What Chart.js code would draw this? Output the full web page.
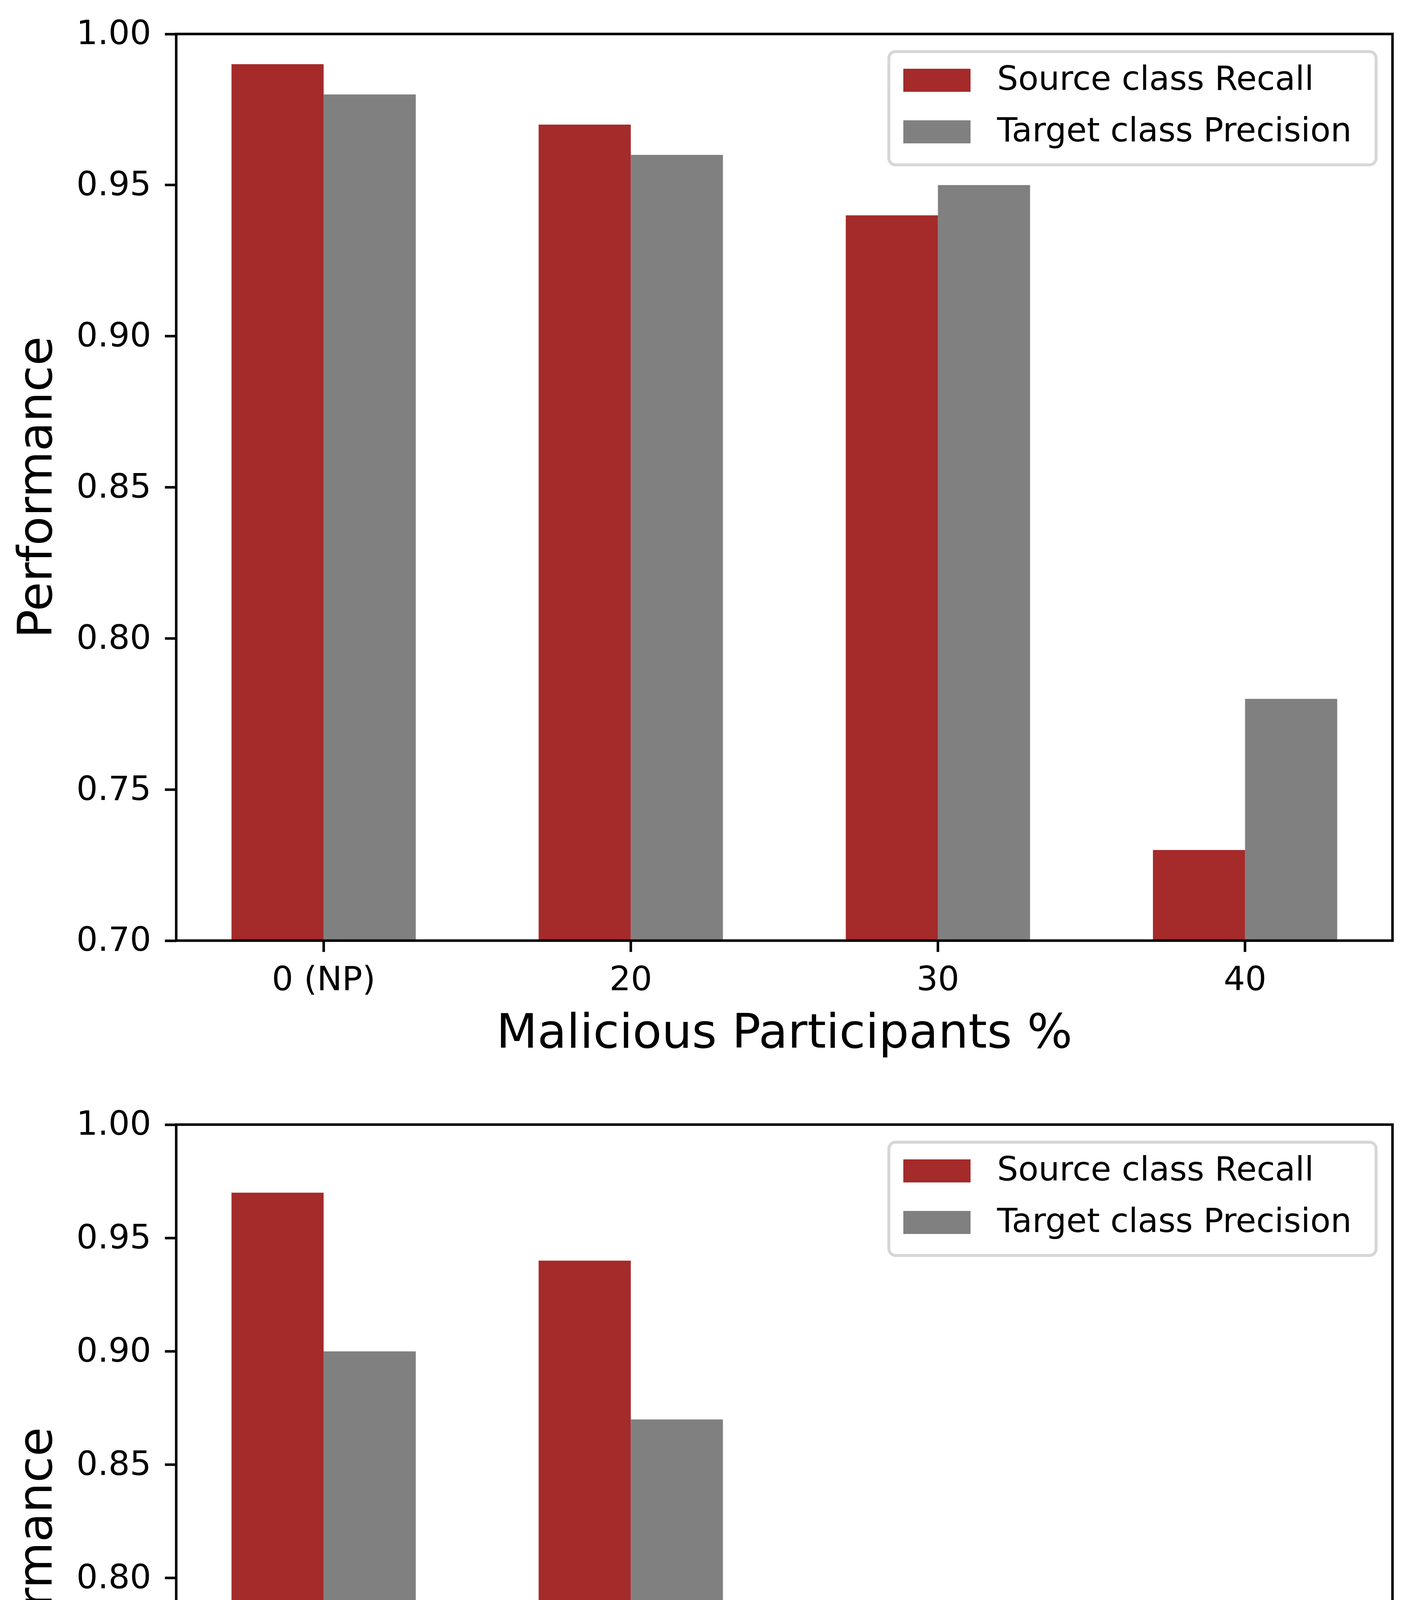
<!DOCTYPE html>
<html>
<head>
<meta charset="utf-8">
<script src="https://cdn.jsdelivr.net/npm/chart.js@4.4.1/dist/chart.umd.min.js"></script>
<style>
  html, body { margin: 0; padding: 0; background: #ffffff; }
  .wrap { position: absolute; left: 0; width: 3596px; }
</style>
</head>
<body>
<div class="wrap" style="top:0px;height:2760px;"><canvas id="chartTop"></canvas></div>
<div class="wrap" style="top:2760px;height:2774px;"><canvas id="chartBottom"></canvas></div>
<script>
// ---------- data ----------
const categories = ['0 (NP)', '20', '30', '40'];
const seriesLabels = ['Source class Recall', 'Target class Precision'];
const seriesColors = ['#A52A2A', '#808080'];

const topRecall    = [0.99, 0.97, 0.94, 0.73];
const topPrecision = [0.98, 0.96, 0.95, 0.78];

const bottomRecall    = [0.97, 0.94, 0.79, 0.69];
const bottomPrecision = [0.90, 0.87, 0.76, 0.70];

const topYTicks    = [0.70, 0.75, 0.80, 0.85, 0.90, 0.95, 1.00];
const bottomYTicks = [0.60, 0.65, 0.70, 0.75, 0.80, 0.85, 0.90, 0.95, 1.00];

const xTitle = 'Malicious Participants %';
const yTitle = 'Performance';

// ---------- styling helpers ----------
const FONT = 'DejaVu Sans';

const framePlugin = {
  id: 'mplFrame',
  afterDatasetsDraw(chart) {
    const { ctx, chartArea: a } = chart;
    ctx.save();
    ctx.strokeStyle = '#000000';
    ctx.lineWidth = 6.5;
    ctx.lineJoin = 'miter';
    ctx.strokeRect(a.left, a.top, a.right - a.left, a.bottom - a.top);
    ctx.restore();
  }
};

const legendPlugin = {
  id: 'mplLegend',
  afterDatasetsDraw(chart) {
    const { ctx, chartArea: a } = chart;
    const L = a.right - 1289, R = a.right - 42, T = a.top + 45, B = a.top + 335;
    const r = 17;
    ctx.save();
    ctx.beginPath();
    ctx.moveTo(L + r, T);
    ctx.lineTo(R - r, T);
    ctx.arcTo(R, T, R, T + r, r);
    ctx.lineTo(R, B - r);
    ctx.arcTo(R, B, R - r, B, r);
    ctx.lineTo(L + r, B);
    ctx.arcTo(L, B, L, B - r, r);
    ctx.lineTo(L, T + r);
    ctx.arcTo(L, T, L + r, T, r);
    ctx.closePath();
    ctx.fillStyle = 'rgba(255,255,255,0.8)';
    ctx.fill();
    ctx.strokeStyle = 'rgba(204,204,204,0.8)';
    ctx.lineWidth = 7.5;
    ctx.stroke();

    const rowTops = [a.top + 89, a.top + 221];
    ctx.font = '85px "' + FONT + '"';
    ctx.textAlign = 'left';
    ctx.textBaseline = 'middle';
    chart.data.datasets.forEach((ds, i) => {
      const yTop = rowTops[i];
      ctx.fillStyle = ds.backgroundColor;
      ctx.fillRect(a.right - 1252, yTop, 172, 59);
      ctx.fillStyle = '#000000';
      ctx.fillText(ds.label, a.right - 1012, yTop + 29.5 + 2.5);
    });
    ctx.restore();
  }
};

function makeChart(canvasId, recall, precision, yTicks, padTop, xAxisHeight, xTitlePadBottom) {
  const tickFont = { family: FONT, size: 86 };
  const titleFont = { family: FONT, size: 122, lineHeight: 1 };
  const gridOpts = {
    display: true,
    offset: false,
    drawOnChartArea: false,
    drawTicks: true,
    tickLength: 29,
    tickWidth: 6.5,
    tickColor: '#000000'
  };
  return new Chart(document.getElementById(canvasId), {
    type: 'bar',
    data: {
      datasets: [
        {
          label: seriesLabels[0],
          data: categories.map((c, i) => ({ x: i, y: recall[i] })),
          backgroundColor: seriesColors[0],
          borderWidth: 0,
          categoryPercentage: 0.6,
          barPercentage: 1.0
        },
        {
          label: seriesLabels[1],
          data: categories.map((c, i) => ({ x: i, y: precision[i] })),
          backgroundColor: seriesColors[1],
          borderWidth: 0,
          categoryPercentage: 0.6,
          barPercentage: 1.0
        }
      ]
    },
    options: {
      responsive: true,
      maintainAspectRatio: false,
      animation: false,
      devicePixelRatio: 1,
      events: [],
      layout: { padding: { top: padTop, left: 0, right: 32, bottom: 0 } },
      plugins: {
        legend: { display: false },
        tooltip: { enabled: false },
        title: { display: false }
      },
      scales: {
        x: {
          type: 'linear',
          position: 'bottom',
          min: -0.48,
          max: 3.48,
          offset: false,
          afterBuildTicks: (s) => { s.ticks = categories.map((c, i) => ({ value: i })); },
          afterFit: (s) => { s.height = xAxisHeight; },
          ticks: {
            callback: (v) => (categories[v] !== undefined ? categories[v] : ''),
            autoSkip: false,
            maxRotation: 0,
            minRotation: 0,
            padding: 24,
            color: '#000000',
            font: tickFont
          },
          grid: gridOpts,
          border: { display: false },
          title: {
            display: true,
            text: xTitle,
            color: '#000000',
            font: titleFont,
            padding: { top: 0, bottom: xTitlePadBottom }
          }
        },
        y: {
          type: 'linear',
          position: 'left',
          min: yTicks[0],
          max: yTicks[yTicks.length - 1],
          afterBuildTicks: (s) => { s.ticks = yTicks.map((v) => ({ value: v })); },
          afterFit: (s) => { s.width = 451; },
          ticks: {
            callback: (v) => Number(v).toFixed(2),
            autoSkip: false,
            padding: 35,
            labelOffset: 4,
            color: '#000000',
            font: tickFont
          },
          grid: gridOpts,
          border: { display: false },
          title: {
            display: true,
            text: yTitle,
            color: '#000000',
            font: titleFont,
            padding: { top: 39.8, bottom: 0 }
          }
        }
      }
    },
    plugins: [framePlugin, legendPlugin]
  });
}

makeChart('chartTop', topRecall, topPrecision, topYTicks, 87, 352, 48.2);
makeChart('chartBottom', bottomRecall, bottomPrecision, bottomYTicks, 119, 333, 32.5);
</script>
</body>
</html>
